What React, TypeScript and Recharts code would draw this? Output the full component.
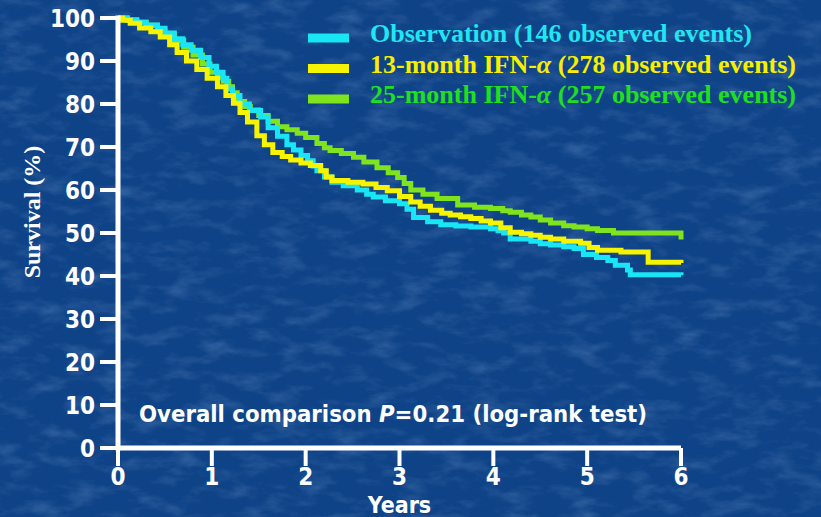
import React from 'react';
import { LineChart, Line, XAxis, YAxis } from 'recharts';

// Kaplan-Meier estimates, time in years, survival in %
const obsTimes = [0, 0.1, 0.2, 0.3, 0.42, 0.5, 0.6, 0.69, 0.78, 0.88, 0.97, 1.05, 1.12, 1.16, 1.22, 1.3, 1.4, 1.52, 1.6, 1.7, 1.8, 1.87, 1.95, 2.02, 2.08, 2.12, 2.2, 2.28, 2.4, 2.55, 2.65, 2.72, 2.85, 3.0, 3.08, 3.15, 3.3, 3.44, 3.6, 3.76, 3.97, 4.05, 4.11, 4.18, 4.4, 4.5, 4.61, 4.75, 4.86, 4.96, 5.1, 5.22, 5.3, 5.43, 5.46, 6.0];
const obsSurv = [100, 99.5, 99, 98.4, 97.6, 96.5, 95.2, 93.8, 92.5, 90.8, 88.8, 87.4, 86, 83.5, 82, 80, 78.5, 77, 74.5, 72.5, 70.5, 69.3, 68, 66.8, 65.6, 64.5, 63, 61.8, 61, 60, 59, 58.4, 57.5, 56.8, 55.5, 53.6, 52.6, 51.9, 51.6, 51.4, 51, 50.5, 50, 48.6, 48.1, 47.5, 47.2, 46.8, 46.4, 45, 44.3, 43.6, 42.5, 41.4, 40.3, 40.2];

const ifn13Times = [0, 0.05, 0.13, 0.23, 0.35, 0.45, 0.55, 0.63, 0.73, 0.84, 0.95, 1.06, 1.15, 1.23, 1.3, 1.38, 1.48, 1.56, 1.65, 1.75, 1.84, 1.95, 2.05, 2.16, 2.22, 2.28, 2.45, 2.61, 2.75, 2.87, 3.0, 3.12, 3.22, 3.33, 3.45, 3.54, 3.65, 3.76, 3.87, 3.97, 4.08, 4.18, 4.3, 4.4, 4.5, 4.61, 4.75, 4.93, 5.02, 5.11, 5.36, 5.65, 6.0];
const ifn13Surv = [100, 99.5, 98.8, 97.7, 96.8, 95.6, 93.8, 92, 90, 88, 86, 84, 82, 80.2, 78, 75.8, 72.6, 70.5, 68.7, 67.8, 67, 66.3, 65.7, 64.5, 63, 62.2, 61.8, 61.4, 60.6, 59.8, 58.5, 57.2, 56.2, 55.3, 54.6, 54.2, 53.8, 53.4, 52.8, 52.3, 51.2, 50.2, 49.8, 49.5, 49, 48.6, 48.1, 47.6, 46.6, 46, 45.6, 43.2, 43];

const ifn25Times = [0, 0.1, 0.2, 0.3, 0.42, 0.5, 0.6, 0.7, 0.8, 0.9, 0.98, 1.06, 1.12, 1.18, 1.22, 1.27, 1.35, 1.41, 1.5, 1.6, 1.7, 1.8, 1.91, 2.0, 2.12, 2.2, 2.26, 2.38, 2.51, 2.62, 2.76, 2.88, 2.98, 3.05, 3.12, 3.25, 3.4, 3.62, 3.8, 3.97, 4.1, 4.18, 4.3, 4.4, 4.5, 4.61, 4.75, 4.86, 5.0, 5.11, 5.28, 5.98, 6.0];
const ifn25Surv = [100, 99.6, 99, 98.3, 97.4, 96.2, 94.8, 93.2, 91.4, 89.3, 87.4, 86.2, 85.3, 84, 82.6, 80.6, 79.4, 78.6, 77.3, 76, 74.7, 74, 73.2, 72.2, 70.8, 69.8, 69.2, 68.5, 67.6, 66.5, 65.2, 64, 62.9, 61.5, 60, 59, 58, 56.5, 56, 55.7, 55.2, 54.8, 54.2, 53.7, 53, 52.3, 51.7, 51.4, 51, 50.6, 50, 50, 48.5];

const xTicks = [0, 1, 2, 3, 4, 5, 6];
const yTicks = [0, 10, 20, 30, 40, 50, 60, 70, 80, 90, 100];

const toRows = (times: number[], surv: number[]) => times.map((t, i) => ({ t, s: surv[i] }));

const series = [
  { key: 'ifn25', name: '25-month IFN-\u03b1', events: 257, line: '#7fe31e', text: '#1fe01f', data: toRows(ifn25Times, ifn25Surv) },
  { key: 'obs', name: 'Observation', events: 146, line: '#19e6f4', text: '#1fe6f2', data: toRows(obsTimes, obsSurv) },
  { key: 'ifn13', name: '13-month IFN-\u03b1', events: 278, line: '#f7f400', text: '#f7ee00', data: toRows(ifn13Times, ifn13Surv) },
];
const legendOrder = ['obs', 'ifn13', 'ifn25'];

const numFont = "'Liberation Sans Narrow', 'DejaVu Sans Condensed', sans-serif";
const serifFont = "'Liberation Serif', 'DejaVu Serif', serif";

const KmLegend = () => (
  <g transform="translate(300,0)">
    {legendOrder.map((k, i) => {
      const s = series.find(x => x.key === k)!;
      const y = 38 + i * 30.5;
      const [label, greek] = s.name.endsWith('\u03b1') ? [s.name.slice(0, -1), '\u03b1'] : [s.name, ''];
      return (
        <g key={k}>
          <rect x={8} y={y - 4.5} width={41} height={9} fill={s.line} />
          <text x={70} y={y + 4} fill={s.text} fontFamily={serifFont} fontWeight={700} fontSize={26}>
            {label}
            {greek && <tspan fontStyle="italic">{greek}</tspan>}
            {` (${s.events} observed events)`}
          </text>
        </g>
      );
    })}
  </g>
);

const App: React.FC = () => {
  const axisStyle = { stroke: '#fff', strokeWidth: 5 };
  const tickStyle = { fill: '#fff', fontSize: 24, fontWeight: 700, fontFamily: numFont };

  return (
    <div style={{ position: 'absolute', left: 0, top: 0, width: 821, height: 517, overflow: 'hidden' }}>
      <svg width={821} height={517} style={{ position: 'absolute', left: 0, top: 0 }}>
        <defs>
          <filter id="granite" x="0" y="0" width="100%" height="100%">
            <feTurbulence type="fractalNoise" baseFrequency="0.03 0.07" numOctaves={4} seed={7} />
            <feColorMatrix type="matrix" values="0 0 0 0 0.4  0 0 0 0 0.6  0 0 0 0 0.9  1.3 0 0 0 -0.6" />
          </filter>
        </defs>
        <rect width={821} height={517} fill="#0f4387" />
        <rect width={821} height={517} filter="url(#granite)" opacity={0.35} />
      </svg>

      <div style={{ position: 'absolute', left: 0, top: 0 }}>
        <LineChart width={821} height={517} margin={{ top: 18, right: 140, bottom: 0, left: 0 }}>
          <XAxis
            type="number"
            dataKey="t"
            domain={[0, 6]}
            ticks={xTicks}
            interval={0}
            allowDuplicatedCategory={false}
            height={69}
            tickSize={18}
            tickMargin={2}
            axisLine={axisStyle}
            tickLine={{ stroke: '#fff', strokeWidth: 4 }}
            tick={tickStyle}
            label={{ value: 'Years', position: 'insideBottom', offset: 4, fill: '#fff', fontSize: 23, fontWeight: 700, fontFamily: numFont }}
          />
          <YAxis
            type="number"
            domain={[0, 100]}
            ticks={yTicks}
            interval={0}
            width={118}
            tickSize={18}
            tickMargin={5}
            axisLine={{ ...axisStyle, strokeLinecap: 'square' }}
            tickLine={{ stroke: '#fff', strokeWidth: 4 }}
            tick={tickStyle}
          />
          {series.map(s => (
            <Line
              key={s.key}
              data={s.data}
              dataKey="s"
              name={s.name}
              type="stepAfter"
              stroke={s.line}
              strokeWidth={5}
              dot={false}
              activeDot={false}
              isAnimationActive={false}
            />
          ))}
        </LineChart>
      </div>

      <svg width={821} height={517} style={{ position: 'absolute', left: 0, top: 0, pointerEvents: 'none' }}>
        <KmLegend />
        <text
          transform="translate(40,212) rotate(-90)"
          textAnchor="middle"
          fill="#fff"
          fontFamily={serifFont}
          fontWeight={700}
          fontSize={24}
        >
          Survival (%)
        </text>
        <text x={139} y={422} fill="#fff" fontFamily={numFont} fontWeight={700} fontSize={23} textLength={508} lengthAdjust="spacingAndGlyphs">
          Overall comparison <tspan fontStyle="italic">P</tspan>=0.21 (log-rank test)
        </text>
      </svg>
    </div>
  );
};

export default App;
